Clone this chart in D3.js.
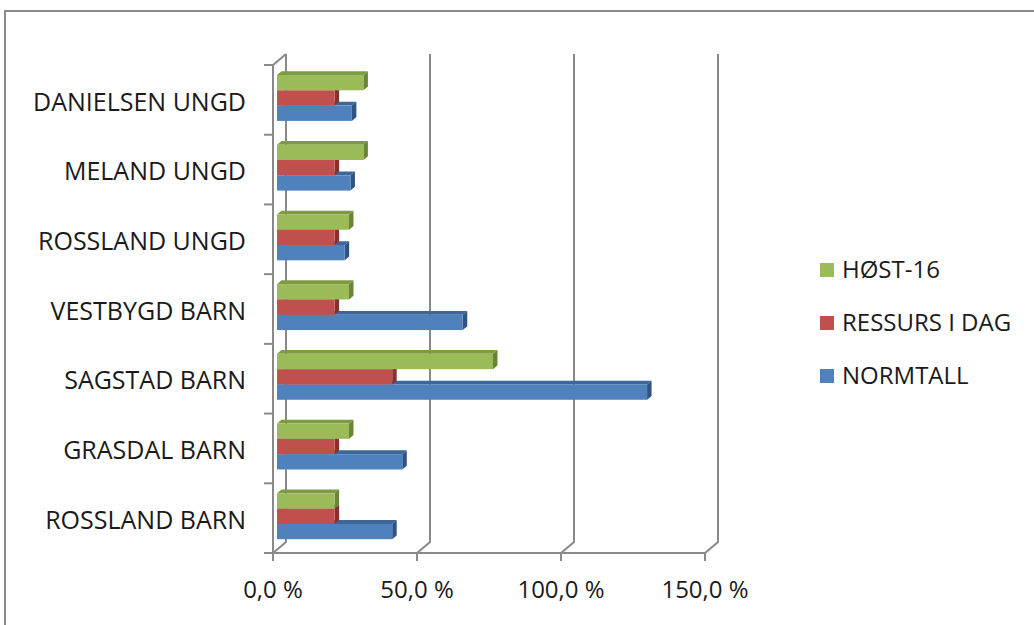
<!DOCTYPE html>
<html>
<head>
<meta charset="utf-8">
<script src="https://cdn.jsdelivr.net/npm/d3@7"></script>
<style>
  body { margin: 0; background: #fff; }
  svg text { font-family: "Open Sans", sans-serif; fill: #1a1a1a; }
</style>
</head>
<body>
<div id="chart"></div>
<script>
// data, bottom category first (as in the sheet)
const categories = ["ROSSLAND BARN", "GRASDAL BARN", "SAGSTAD BARN", "VESTBYGD BARN", "ROSSLAND UNGD", "MELAND UNGD", "DANIELSEN UNGD"];
const normtall = [0.40, 0.435, 1.285, 0.645, 0.235, 0.255, 0.26];
const ressurs = [0.20, 0.20, 0.40, 0.20, 0.20, 0.20, 0.20];
const host16 = [0.20, 0.25, 0.75, 0.25, 0.25, 0.30, 0.30];
const seriesNames = ["NORMTALL", "RESSURS I DAG", "HØST-16"];
const xTicks = [0, 0.5, 1.0, 1.5];

const colors = [
    {front: "#4F81BD", top: "#3D6699", side: "#2F5383"},
    {front: "#C0504D", top: "#9C3E3B", side: "#843130"},
    {front: "#9BBB59", top: "#7E9B43", side: "#6A8536"}
];

const width = 1034, height = 625;
const svg = d3.select("#chart").append("svg")
    .attr("width", width)
    .attr("height", height);

// outer frame
svg.append("rect")
    .attr("x", 5).attr("y", 11)
    .attr("width", 1040).attr("height", 640)
    .attr("fill", "none")
    .attr("stroke", "#8a8a8a")
    .attr("stroke-width", 2);

// 3D depth of the back wall
const DX = 13, DY = 11;
const plotTop = 65, plotBottom = 553;

const x = d3.scaleLinear().domain([0, 1.5]).range([273, 705]);
const y = d3.scaleBand()
    .domain(categories.slice().reverse())
    .range([plotTop, plotBottom]);

const gridColor = "#898989";

// back wall gridlines + floor diagonals
const grid = svg.append("g");
xTicks.forEach(v => {
    grid.append("path")
        .attr("d", `M${x(v)},${plotBottom} L${x(v) + DX},${plotBottom - DY} L${x(v) + DX},${plotTop - DY}`)
        .attr("fill", "none")
        .attr("stroke", gridColor)
        .attr("stroke-width", 2);
});
grid.append("path")
    .attr("d", `M${x(0)},${plotTop} L${x(0) + DX},${plotTop - DY}`)
    .attr("fill", "none")
    .attr("stroke", gridColor)
    .attr("stroke-width", 2);

// bars
const series = [normtall, ressurs, host16];
const barH = 15.3, bdx = 4.5, bdy = 3.8, bx0 = 4;
const rowOf = [2, 1, 0]; // green on top, blue at bottom

const bars = svg.append("g");
series.forEach((vals, s) => {
    const c = colors[s];
    const g = bars.append("g");
    categories.forEach((cat, i) => {
        const x1 = x(0) + bx0, x2 = x(vals[i]) + bx0;
        const y1 = y(cat) + 10 + rowOf[s] * barH, y2 = y1 + barH;
        g.append("path")
            .attr("d", `M${x1},${y1} L${x2},${y1} L${x2 + bdx},${y1 - bdy} L${x1 + bdx},${y1 - bdy}Z`)
            .attr("fill", c.top);
        g.append("path")
            .attr("d", `M${x2},${y1} L${x2 + bdx},${y1 - bdy} L${x2 + bdx},${y2 - bdy} L${x2},${y2}Z`)
            .attr("fill", c.side);
        g.append("rect")
            .attr("x", x1).attr("y", y1)
            .attr("width", x2 - x1).attr("height", barH)
            .attr("fill", c.front);
    });
});

// front axes
const axes = svg.append("g")
    .attr("stroke", gridColor)
    .attr("stroke-width", 2)
    .attr("fill", "none");
axes.append("line")
    .attr("x1", 264).attr("x2", x(1.5))
    .attr("y1", plotBottom).attr("y2", plotBottom);
axes.append("line")
    .attr("x1", x(0)).attr("x2", x(0))
    .attr("y1", plotTop).attr("y2", plotBottom);
xTicks.forEach(v => {
    axes.append("line")
        .attr("x1", x(v)).attr("x2", x(v))
        .attr("y1", plotBottom).attr("y2", plotBottom + 8);
});
const bounds = y.domain().map(d => y(d)).concat([plotBottom]);
bounds.forEach(b => {
    axes.append("line")
        .attr("x1", 264).attr("x2", x(0))
        .attr("y1", b).attr("y2", b);
});

// tick labels
const fmt = v => d3.format(".1f")(v * 100).replace(".", ",") + " %";
svg.append("g").selectAll("text")
    .data(xTicks)
    .enter()
    .append("text")
    .attr("x", d => x(d))
    .attr("y", 598)
    .attr("text-anchor", "middle")
    .style("font-size", "24px")
    .text(fmt);

// category labels
svg.append("g").selectAll("text")
    .data(categories)
    .enter()
    .append("text")
    .attr("x", 246)
    .attr("y", d => y(d) + y.bandwidth() / 2 + 2)
    .attr("dy", "0.35em")
    .attr("text-anchor", "end")
    .style("font-size", "25px")
    .text(d => d);

// legend
const legendY = [376, 323, 270];
const legend = svg.append("g");
seriesNames.forEach((name, s) => {
    legend.append("rect")
        .attr("x", 820).attr("y", legendY[s] - 7)
        .attr("width", 14).attr("height", 14)
        .attr("fill", colors[s].front);
    legend.append("text")
        .attr("x", 842)
        .attr("y", legendY[s])
        .attr("dy", "0.35em")
        .style("font-size", "24px")
        .text(name);
});
</script>
</body>
</html>
